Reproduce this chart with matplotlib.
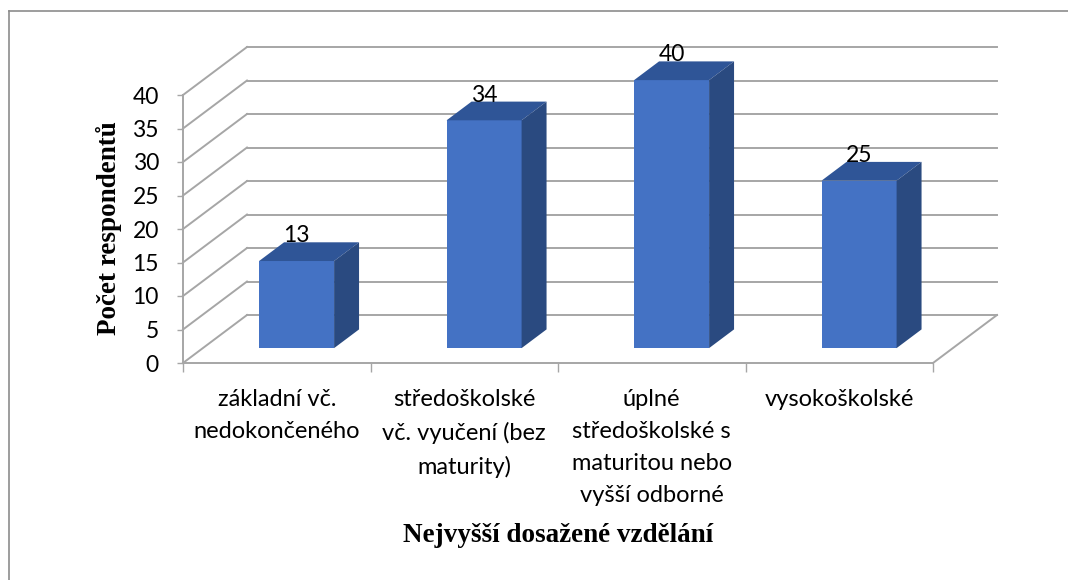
import matplotlib
matplotlib.use('Agg')
import matplotlib.pyplot as plt
from matplotlib.lines import Line2D

# ---- data ----
categories = ['základní vč.\nnedokončeného',
              'středoškolské\nvč. vyučení (bez\nmaturity)',
              'úplné\nstředoškolské s\nmaturitou nebo\nvyšší odborné',
              'vysokoškolské']
values = [13, 34, 40, 25]
yticks = [0, 5, 10, 15, 20, 25, 30, 35, 40]
ylabel = 'Počet respondentů'
xlabel = 'Nejvyšší dosažené vzdělání'

plt.rcParams['font.family'] = ['Lato', 'DejaVu Sans']

W, H = 1068, 580
fig = plt.figure(figsize=(W / 100, H / 100), dpi=100)
fig.patch.set_facecolor('white')
ax = fig.add_axes([183 / W, (H - 363) / H, 750 / W, 268 / H])
ax.set_xlim(0, len(categories))
ax.set_ylim(0, 40)
ax.patch.set_visible(False)

GRID = '#a6a6a6'
FRONT = '#4472c4'
TOP = '#2f5597'
SIDE = '#2a4a80'

# pseudo-3D depth projection (full depth shift in data units)
SX = 64 / 187.5
SY = 48 / 6.7


def proj(x, v, d):
    return x + SX * d, v + SY * d


n = len(categories)
# back wall gridlines + left wall diagonals
for v in yticks:
    xa, ya = proj(0, v, 1)
    xb, yb = proj(n, v, 1)
    ax.plot([xa, xb], [ya, yb], color=GRID, lw=1.4, clip_on=False, zorder=1)
    ax.plot([0, xa], [v, ya], color=GRID, lw=1.4, clip_on=False, zorder=1)
# floor right edge
xr, yr = proj(n, 0, 1)
ax.plot([n, xr], [0, yr], color=GRID, lw=1.4, clip_on=False, zorder=1)

# bars
d0, d1 = 0.31, 0.70
bw = 0.4
centers = [i + 0.5 for i in range(n)]
ax.bar([c + SX * d0 for c in centers], values, width=bw, bottom=SY * d0,
       color=FRONT, zorder=3, clip_on=False)
for c, v in zip(centers, values):
    x0, x1 = c - bw / 2, c + bw / 2
    top = [proj(x0, v, d0), proj(x1, v, d0), proj(x1, v, d1), proj(x0, v, d1)]
    side = [proj(x1, 0, d0), proj(x1, v, d0), proj(x1, v, d1), proj(x1, 0, d1)]
    ax.fill([p[0] for p in top], [p[1] for p in top], color=TOP, zorder=3,
            clip_on=False, lw=0)
    ax.fill([p[0] for p in side], [p[1] for p in side], color=SIDE, zorder=3,
            clip_on=False, lw=0)
    lx, ly = proj(c, v, d1)
    ax.text(c + SX * d0, ly, str(v), ha='center', va='baseline',
            fontsize=16.5, color='black', zorder=4)

# axes
for s in ['top', 'right']:
    ax.spines[s].set_visible(False)
for s in ['left', 'bottom']:
    ax.spines[s].set_color(GRID)
    ax.spines[s].set_linewidth(1.4)
ax.set_yticks(yticks)
ax.set_yticklabels([str(t) for t in yticks])
ax.tick_params(axis='y', length=4.3, width=1.0, color=GRID, pad=13,
               labelsize=16.5)
ax.set_xticks(centers)
ax.set_xticklabels(categories, linespacing=1.64)
ax.set_xticks(range(n + 1), minor=True)
ax.tick_params(axis='x', which='major', length=0, pad=19, labelsize=17)
ax.tick_params(axis='x', which='minor', length=6.5, width=1.0, color=GRID)

fig.text(109 / W, 1 - 228 / H, ylabel, rotation=90, ha='center', va='center',
         family='Liberation Serif', weight='bold', fontsize=19.5)
fig.text(558 / W, 1 - 536 / H, xlabel, ha='center', va='center',
         family='Liberation Serif', weight='bold', fontsize=19.5)

# outer frame (top and left edges visible)
fig.add_artist(Line2D([9 / W, 1], [1 - 11 / H, 1 - 11 / H], color='#8c8c8c',
                      lw=1.2, transform=fig.transFigure))
fig.add_artist(Line2D([9 / W, 9 / W], [1 - 11 / H, 0], color='#8c8c8c',
                      lw=1.2, transform=fig.transFigure))

fig.savefig('out.png', dpi=100, facecolor='white')
